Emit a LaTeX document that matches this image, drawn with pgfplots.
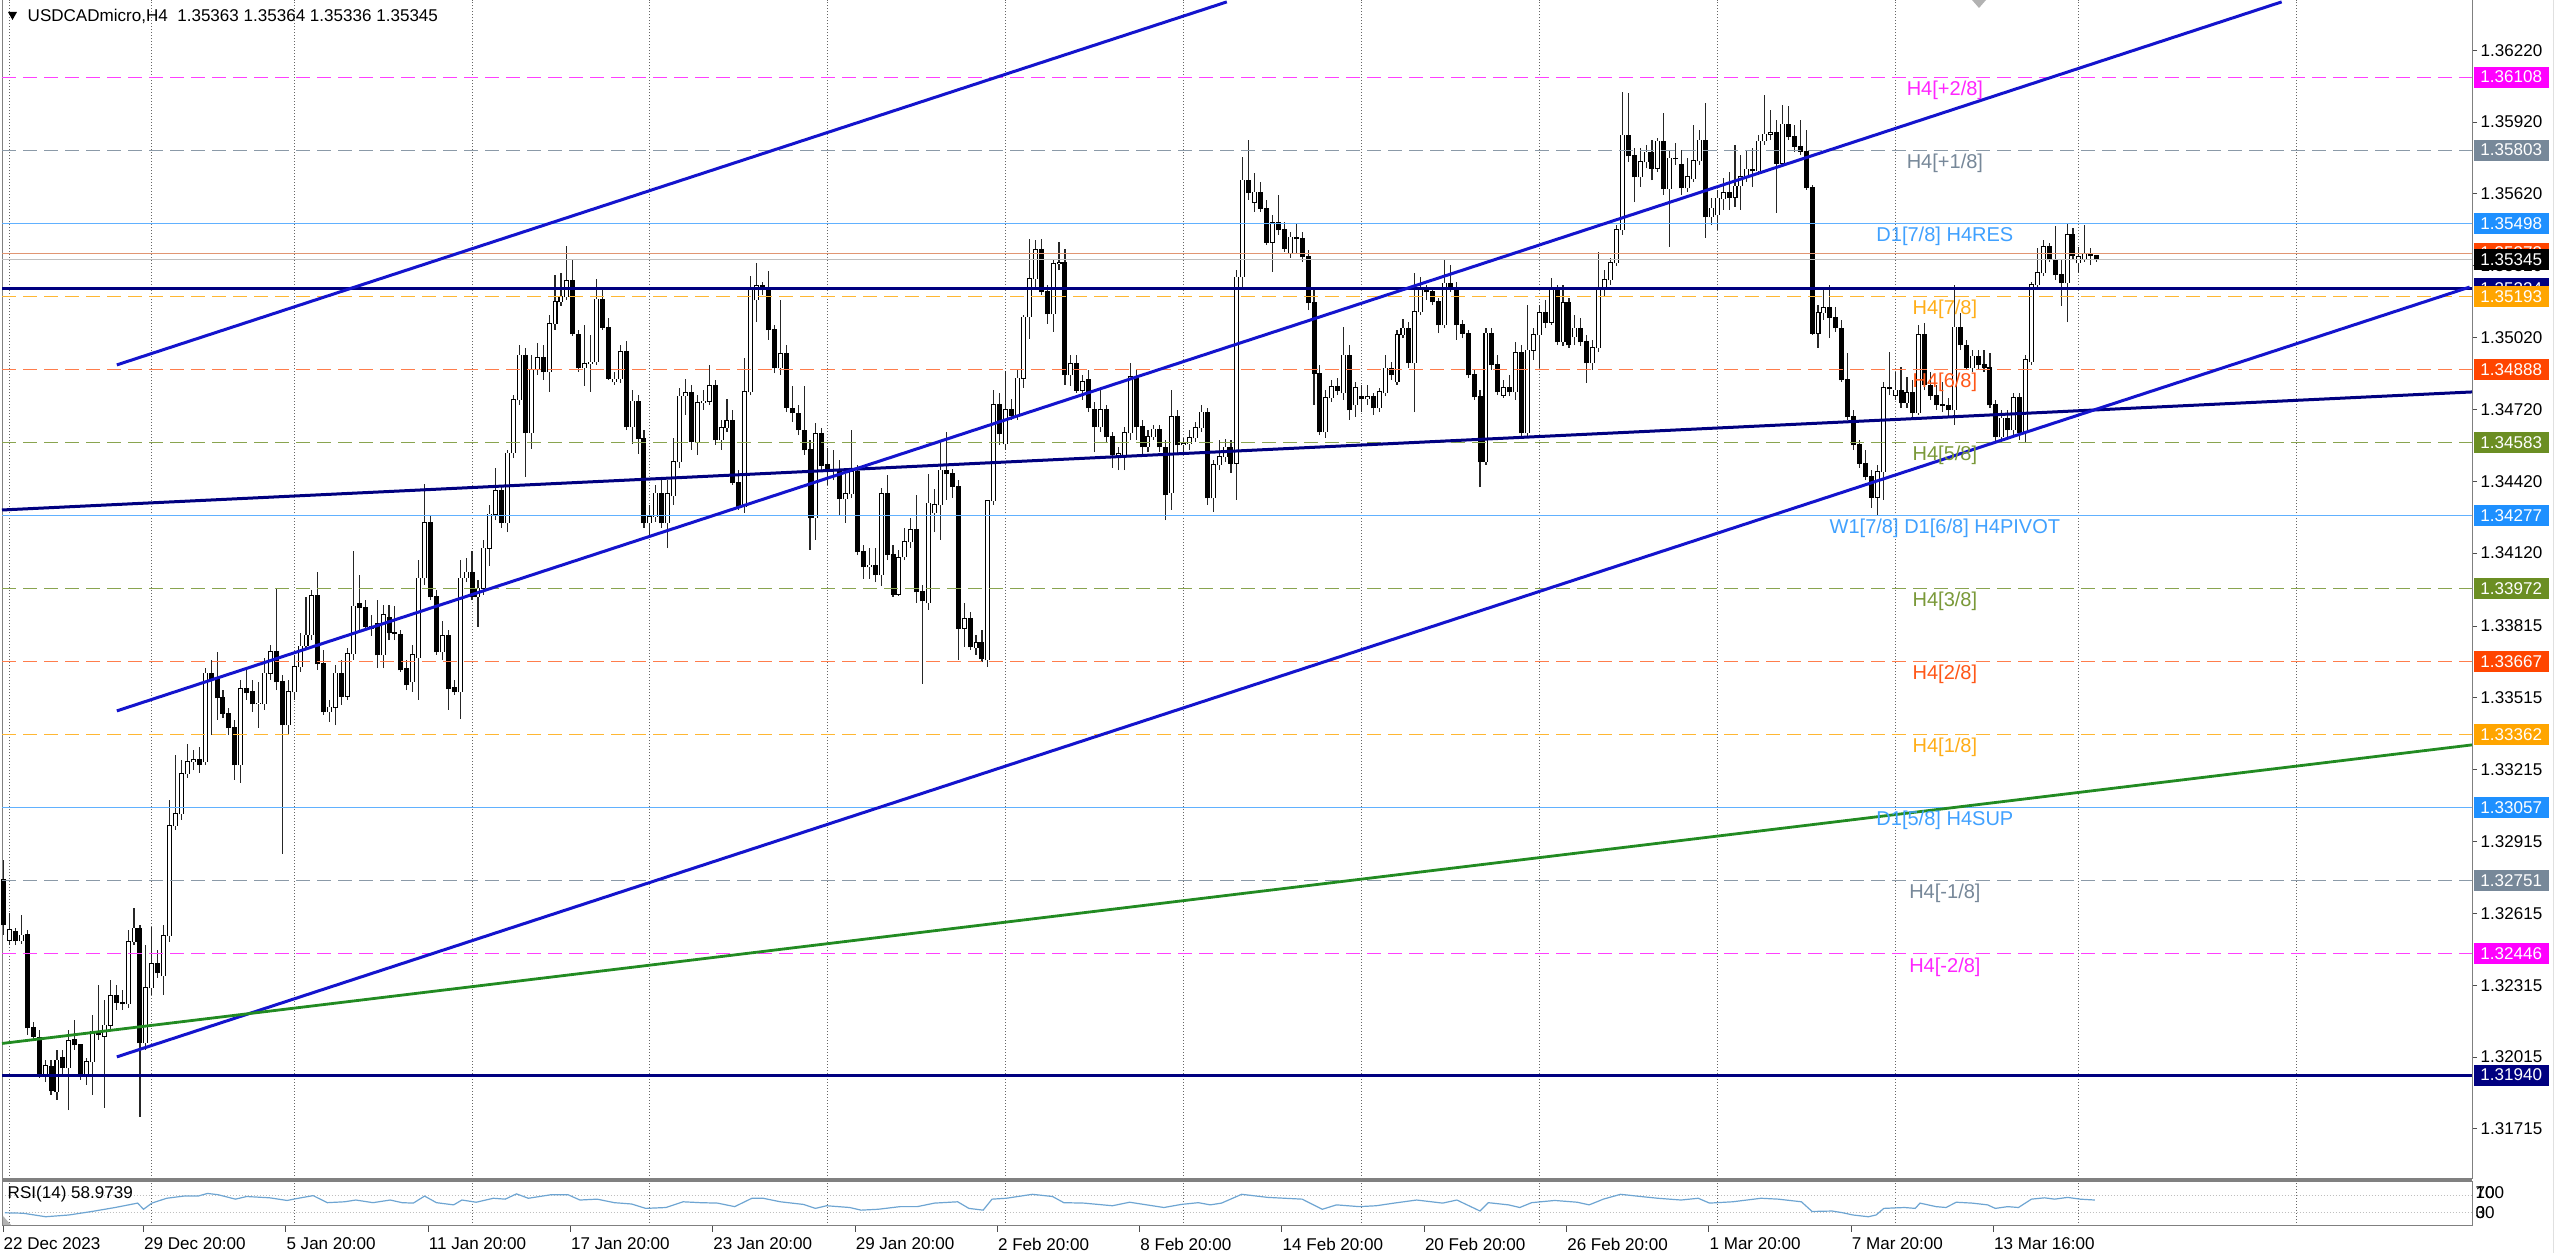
\documentclass[border=0pt]{standalone}
\usepackage{fontspec}
\setmainfont{Liberation Sans}
\usepackage{pgfplots}
\pgfplotsset{compat=1.18}
\usepackage{pgfplotstable}

\definecolor{mtnavy}{RGB}{0,0,128}
\definecolor{mtblue}{RGB}{20,20,205}
\definecolor{mtgreen}{RGB}{34,139,34}
\definecolor{mtmagenta}{RGB}{255,0,255}
\definecolor{mtslate}{RGB}{119,136,153}
\definecolor{mtdodger}{RGB}{30,144,255}
\definecolor{mtorange}{RGB}{255,165,0}
\definecolor{mtored}{RGB}{255,69,0}
\definecolor{mtolive}{RGB}{107,142,35}
\definecolor{mtrsi}{RGB}{110,165,210}
\definecolor{mtframe}{RGB}{128,128,128}
\definecolor{mtprev}{RGB}{225,150,115}

\newcommand\axfont{\fontsize{4.85pt}{5.6pt}\selectfont}
\newcommand\lvfont{\fontsize{5.7pt}{6.6pt}\selectfont}

% USDCADmicro H4 candles, one row per bar (open high low close)
\pgfplotstableread{
o h l c
1.32755 1.32839 1.32525 1.32567
1.32504 1.32617 1.32483 1.32546
1.32538 1.32554 1.32483 1.32500
1.32500 1.32609 1.32488 1.32525
1.32529 1.32546 1.32108 1.32137
1.32137 1.32162 1.32087 1.32103
1.32099 1.32128 1.31928 1.31945
1.31945 1.32003 1.31911 1.31978
1.31978 1.32003 1.31857 1.31874
1.31870 1.32045 1.31836 1.32003
1.32012 1.32045 1.31941 1.31970
1.31970 1.32128 1.31794 1.32083
1.32087 1.32170 1.32045 1.32066
1.32066 1.32070 1.31920 1.31941
1.31945 1.32012 1.31899 1.31995
1.31995 1.32191 1.31857 1.32124
1.32120 1.32316 1.32087 1.32108
1.32103 1.32254 1.31803 1.32149
1.32149 1.32337 1.32128 1.32271
1.32271 1.32316 1.32212 1.32245
1.32245 1.32296 1.32212 1.32237
1.32237 1.32546 1.32220 1.32497
1.32497 1.32638 1.32483 1.32554
1.32554 1.32567 1.31765 1.32074
1.32074 1.32483 1.32045 1.32304
1.32304 1.32559 1.32275 1.32404
1.32404 1.32463 1.32346 1.32367
1.32354 1.32567 1.32275 1.32521
1.32521 1.33089 1.32497 1.32981
1.32981 1.33277 1.32964 1.33031
1.33031 1.33256 1.33006 1.33198
1.33198 1.33323 1.33181 1.33248
1.33248 1.33298 1.33214 1.33256
1.33256 1.33310 1.33202 1.33239
1.33248 1.33640 1.33235 1.33619
1.33619 1.33674 1.33361 1.33590
1.33599 1.33708 1.33423 1.33515
1.33515 1.33548 1.33432 1.33452
1.33452 1.33473 1.33361 1.33390
1.33390 1.33423 1.33173 1.33235
1.33235 1.33590 1.33160 1.33553
1.33553 1.33632 1.33507 1.33536
1.33540 1.33590 1.33457 1.33490
1.33490 1.33582 1.33390 1.33494
1.33490 1.33682 1.33465 1.33619
1.33619 1.33736 1.33590 1.33707
1.33711 1.33974 1.33548 1.33582
1.33582 1.33611 1.32864 1.33402
1.33402 1.33590 1.33361 1.33540
1.33540 1.33695 1.33507 1.33645
1.33645 1.33787 1.33624 1.33732
1.33732 1.33937 1.33716 1.33778
1.33778 1.33966 1.33757 1.33941
1.33941 1.34041 1.33632 1.33657
1.33657 1.33716 1.33444 1.33457
1.33457 1.33507 1.33415 1.33477
1.33477 1.33653 1.33402 1.33619
1.33619 1.33674 1.33486 1.33523
1.33523 1.33724 1.33507 1.33699
1.33699 1.34129 1.33674 1.33899
1.33908 1.34029 1.33799 1.33891
1.33891 1.33924 1.33799 1.33812
1.33812 1.33862 1.33774 1.33807
1.33824 1.33924 1.33640 1.33695
1.33695 1.33903 1.33640 1.33862
1.33853 1.33903 1.33757 1.33787
1.33787 1.33899 1.33757 1.33782
1.33782 1.33799 1.33624 1.33632
1.33640 1.33674 1.33548 1.33569
1.33582 1.33736 1.33540 1.33695
1.33682 1.34091 1.33507 1.34016
1.34016 1.34409 1.33987 1.34246
1.34246 1.34279 1.33924 1.33937
1.33937 1.33966 1.33695 1.33707
1.33707 1.33837 1.33674 1.33774
1.33774 1.33799 1.33465 1.33553
1.33557 1.33590 1.33528 1.33540
1.33540 1.34091 1.33427 1.34016
1.34016 1.34100 1.33999 1.34041
1.34041 1.34129 1.33924 1.33937
1.33937 1.34008 1.33812 1.33974
1.33974 1.34175 1.33945 1.34141
1.34141 1.34321 1.34066 1.34283
1.34283 1.34476 1.34258 1.34380
1.34380 1.34405 1.34225 1.34246
1.34246 1.34551 1.34208 1.34538
1.34538 1.34780 1.34517 1.34760
1.34760 1.34989 1.34739 1.34947
1.34947 1.34977 1.34438 1.34622
1.34622 1.34947 1.34555 1.34885
1.34885 1.34998 1.34864 1.34935
1.34935 1.34989 1.34843 1.34877
1.34877 1.35115 1.34793 1.35077
1.35077 1.35282 1.35052 1.35169
1.35169 1.35290 1.35152 1.35190
1.35190 1.35403 1.35177 1.35257
1.35257 1.35344 1.35027 1.35035
1.35035 1.35052 1.34877 1.34893
1.34893 1.35073 1.34818 1.34910
1.34910 1.35031 1.34793 1.34918
1.34918 1.35265 1.34906 1.35181
1.35181 1.35219 1.35052 1.35064
1.35064 1.35102 1.34843 1.34851
1.34835 1.34877 1.34822 1.34847
1.34847 1.34989 1.34831 1.34960
1.34960 1.35006 1.34634 1.34647
1.34647 1.34801 1.34576 1.34755
1.34755 1.34780 1.34534 1.34597
1.34597 1.34634 1.34225 1.34246
1.34246 1.34321 1.34187 1.34271
1.34271 1.34405 1.34250 1.34371
1.34371 1.34425 1.34225 1.34246
1.34246 1.34425 1.34141 1.34367
1.34359 1.34601 1.34321 1.34501
1.34501 1.34810 1.34476 1.34776
1.34776 1.34847 1.34697 1.34789
1.34789 1.34822 1.34551 1.34584
1.34584 1.34780 1.34530 1.34747
1.34747 1.34801 1.34718 1.34755
1.34755 1.34906 1.34739 1.34818
1.34818 1.34843 1.34572 1.34593
1.34593 1.34676 1.34551 1.34643
1.34643 1.34764 1.34626 1.34672
1.34672 1.34718 1.34405 1.34413
1.34413 1.34467 1.34300 1.34313
1.34313 1.34935 1.34288 1.34793
1.34793 1.35277 1.34780 1.35227
1.35177 1.35332 1.35085 1.35236
1.35236 1.35252 1.35198 1.35219
1.35223 1.35298 1.35010 1.35052
1.35052 1.35073 1.34872 1.34893
1.34893 1.35177 1.34864 1.34952
1.34952 1.34989 1.34709 1.34730
1.34726 1.34818 1.34668 1.34705
1.34705 1.34739 1.34613 1.34634
1.34634 1.34818 1.34530 1.34551
1.34551 1.34593 1.34133 1.34267
1.34267 1.34664 1.34175 1.34618
1.34618 1.34643 1.34467 1.34484
1.34492 1.34559 1.34405 1.34467
1.34467 1.34551 1.34425 1.34471
1.34471 1.34509 1.34279 1.34346
1.34346 1.34451 1.34246 1.34367
1.34367 1.34634 1.34350 1.34459
1.34459 1.34488 1.34112 1.34125
1.34125 1.34154 1.34012 1.34062
1.34062 1.34141 1.34012 1.34070
1.34070 1.34141 1.33999 1.34029
1.34029 1.34392 1.33983 1.34367
1.34367 1.34446 1.34091 1.34116
1.34116 1.34154 1.33937 1.33949
1.33949 1.34133 1.33941 1.34100
1.34104 1.34225 1.34091 1.34167
1.34167 1.34267 1.34141 1.34217
1.34217 1.34363 1.33912 1.33958
1.33958 1.33987 1.33574 1.33920
1.33912 1.34451 1.33883 1.34329
1.34288 1.34388 1.34208 1.34321
1.34321 1.34593 1.34175 1.34467
1.34467 1.34626 1.34342 1.34451
1.34451 1.34471 1.34350 1.34400
1.34400 1.34425 1.33674 1.33807
1.33807 1.33912 1.33728 1.33845
1.33845 1.33874 1.33716 1.33728
1.33724 1.33778 1.33695 1.33745
1.33745 1.33799 1.33665 1.33678
1.33674 1.34342 1.33645 1.34338
1.34338 1.34801 1.34321 1.34739
1.34739 1.34789 1.34572 1.34618
1.34576 1.34881 1.34551 1.34718
1.34718 1.34764 1.34676 1.34693
1.34693 1.34885 1.34676 1.34851
1.34851 1.35115 1.34810 1.35106
1.35106 1.35432 1.35014 1.35265
1.35265 1.35428 1.35219 1.35386
1.35386 1.35432 1.35198 1.35211
1.35211 1.35240 1.35077 1.35119
1.35119 1.35344 1.35044 1.35328
1.35328 1.35419 1.35302 1.35332
1.35332 1.35390 1.34822 1.34864
1.34864 1.34947 1.34818 1.34910
1.34910 1.34947 1.34789 1.34801
1.34801 1.34864 1.34760 1.34835
1.34843 1.34885 1.34709 1.34726
1.34718 1.34751 1.34542 1.34647
1.34647 1.34801 1.34626 1.34718
1.34718 1.34739 1.34584 1.34605
1.34605 1.34626 1.34476 1.34530
1.34530 1.34563 1.34467 1.34534
1.34530 1.34647 1.34467 1.34622
1.34622 1.34914 1.34593 1.34856
1.34856 1.34885 1.34593 1.34647
1.34647 1.34676 1.34530 1.34563
1.34563 1.34634 1.34542 1.34605
1.34605 1.34655 1.34593 1.34638
1.34638 1.34655 1.34542 1.34563
1.34563 1.34593 1.34258 1.34363
1.34371 1.34801 1.34300 1.34689
1.34689 1.34718 1.34530 1.34572
1.34572 1.34601 1.34542 1.34576
1.34576 1.34634 1.34551 1.34601
1.34601 1.34668 1.34584 1.34643
1.34643 1.34739 1.34626 1.34709
1.34709 1.34726 1.34321 1.34350
1.34350 1.34509 1.34292 1.34488
1.34488 1.34593 1.34467 1.34522
1.34522 1.34597 1.34501 1.34563
1.34563 1.34593 1.34455 1.34496
1.34496 1.35302 1.34342 1.35273
1.35273 1.35774 1.35219 1.35678
1.35678 1.35845 1.35595 1.35624
1.35586 1.35708 1.35545 1.35628
1.35628 1.35670 1.35545 1.35561
1.35561 1.35595 1.35407 1.35419
1.35419 1.35532 1.35294 1.35499
1.35499 1.35616 1.35449 1.35470
1.35470 1.35503 1.35378 1.35394
1.35373 1.35461 1.35353 1.35440
1.35440 1.35499 1.35373 1.35432
1.35432 1.35461 1.35336 1.35357
1.35357 1.35386 1.35135 1.35165
1.35165 1.35219 1.34739 1.34872
1.34872 1.34906 1.34613 1.34626
1.34626 1.34801 1.34601 1.34768
1.34768 1.34843 1.34751 1.34814
1.34814 1.34851 1.34780 1.34801
1.34789 1.35064 1.34760 1.34947
1.34947 1.34989 1.34676 1.34718
1.34739 1.34835 1.34689 1.34810
1.34772 1.34822 1.34709 1.34764
1.34764 1.34822 1.34739 1.34772
1.34772 1.34789 1.34697 1.34726
1.34726 1.34810 1.34709 1.34793
1.34789 1.34947 1.34776 1.34893
1.34893 1.34918 1.34843 1.34864
1.34835 1.35052 1.34822 1.35031
1.35031 1.35098 1.35018 1.35060
1.35060 1.35085 1.34893 1.34914
1.34914 1.35290 1.34709 1.35127
1.35127 1.35273 1.35115 1.35227
1.35227 1.35240 1.35177 1.35211
1.35211 1.35227 1.35156 1.35169
1.35169 1.35185 1.35039 1.35073
1.35073 1.35344 1.35060 1.35248
1.35248 1.35323 1.35211 1.35227
1.35227 1.35252 1.35010 1.35073
1.35073 1.35094 1.35018 1.35039
1.35039 1.35052 1.34851 1.34864
1.34864 1.34885 1.34760 1.34772
1.34772 1.34801 1.34396 1.34501
1.34501 1.35060 1.34488 1.35039
1.35039 1.35060 1.34885 1.34906
1.34906 1.34947 1.34780 1.34793
1.34780 1.34843 1.34768 1.34810
1.34810 1.34864 1.34776 1.34793
1.34793 1.35002 1.34760 1.34956
1.34956 1.34989 1.34601 1.34622
1.34622 1.35156 1.34609 1.34968
1.34968 1.35060 1.34927 1.35031
1.35031 1.35156 1.34893 1.35123
1.35123 1.35177 1.35060 1.35085
1.35085 1.35269 1.35073 1.35219
1.35219 1.35240 1.34989 1.35002
1.35002 1.35240 1.34985 1.35165
1.35165 1.35185 1.34977 1.34989
1.35023 1.35115 1.34989 1.35060
1.35060 1.35102 1.34985 1.35002
1.35002 1.35031 1.34831 1.34914
1.34914 1.35010 1.34885 1.34977
1.34977 1.35378 1.34960 1.35219
1.35219 1.35302 1.35190 1.35261
1.35261 1.35353 1.35240 1.35332
1.35332 1.35490 1.35319 1.35470
1.35470 1.36046 1.35449 1.35866
1.35866 1.36042 1.35754 1.35779
1.35779 1.35812 1.35586 1.35691
1.35691 1.35812 1.35649 1.35754
1.35754 1.35825 1.35728 1.35795
1.35795 1.35845 1.35678 1.35728
1.35728 1.35854 1.35712 1.35841
1.35841 1.35958 1.35616 1.35641
1.35641 1.35804 1.35399 1.35770
1.35770 1.35833 1.35741 1.35766
1.35741 1.35804 1.35616 1.35645
1.35645 1.35770 1.35628 1.35691
1.35683 1.35908 1.35670 1.35758
1.35758 1.35887 1.35741 1.35845
1.35845 1.36000 1.35436 1.35524
1.35524 1.35603 1.35490 1.35561
1.35532 1.35637 1.35470 1.35603
1.35599 1.35687 1.35553 1.35624
1.35624 1.35712 1.35553 1.35607
1.35607 1.35825 1.35566 1.35653
1.35653 1.35783 1.35553 1.35691
1.35691 1.35804 1.35670 1.35724
1.35724 1.35812 1.35649 1.35716
1.35716 1.35866 1.35699 1.35841
1.35841 1.36033 1.35825 1.35870
1.35870 1.35971 1.35845 1.35875
1.35875 1.35929 1.35541 1.35749
1.35749 1.35992 1.35737 1.35912
1.35912 1.35987 1.35845 1.35858
1.35858 1.35908 1.35795 1.35820
1.35820 1.35929 1.35783 1.35799
1.35799 1.35887 1.35637 1.35645
1.35645 1.35657 1.35031 1.35039
1.35039 1.35156 1.34977 1.35123
1.35123 1.35227 1.35094 1.35144
1.35144 1.35240 1.35018 1.35102
1.35102 1.35148 1.35044 1.35060
1.35060 1.35094 1.34835 1.34843
1.34843 1.34956 1.34676 1.34689
1.34689 1.34718 1.34551 1.34572
1.34572 1.34593 1.34476 1.34496
1.34496 1.34551 1.34425 1.34438
1.34438 1.34467 1.34309 1.34354
1.34354 1.34488 1.34279 1.34459
1.34459 1.34835 1.34342 1.34810
1.34810 1.34960 1.34780 1.34806
1.34780 1.34877 1.34760 1.34801
1.34801 1.34897 1.34726 1.34747
1.34747 1.34856 1.34726 1.34789
1.34789 1.34843 1.34684 1.34705
1.34705 1.35073 1.34697 1.35031
1.35031 1.35081 1.34801 1.34822
1.34822 1.34877 1.34760 1.34780
1.34780 1.34822 1.34718 1.34739
1.34739 1.34835 1.34709 1.34735
1.34735 1.34768 1.34693 1.34718
1.34718 1.35240 1.34655 1.35064
1.35064 1.35123 1.34968 1.34989
1.34989 1.35010 1.34885 1.34893
1.34893 1.34968 1.34877 1.34943
1.34943 1.34968 1.34885 1.34906
1.34906 1.34968 1.34877 1.34897
1.34897 1.34956 1.34726 1.34739
1.34739 1.34760 1.34584 1.34605
1.34605 1.34718 1.34584 1.34684
1.34684 1.34718 1.34605 1.34634
1.34634 1.34789 1.34613 1.34768
1.34768 1.34789 1.34593 1.34622
1.34622 1.34947 1.34584 1.34927
1.34918 1.35252 1.34906 1.35240
1.35240 1.35394 1.35227 1.35290
1.35290 1.35428 1.35277 1.35399
1.35399 1.35415 1.35336 1.35344
1.35344 1.35486 1.35261 1.35282
1.35282 1.35344 1.35152 1.35248
1.35248 1.35499 1.35085 1.35449
1.35449 1.35478 1.35344 1.35361
1.35332 1.35399 1.35290 1.35357
1.35348 1.35490 1.35336 1.35373
1.35373 1.35394 1.35323 1.35361
1.35363 1.35364 1.35336 1.35345
}\candles

\newcommand\pbox[3]{\node[fill=#2, text=white, anchor=west, font=\axfont,
  minimum width=0.75cm, minimum height=0.21cm, inner sep=0pt, xshift=0.01cm]
  at (axis cs:416.3,#1) {#3};}
\newcommand\plab[1]{\node[anchor=west, font=\axfont, inner sep=0pt, xshift=0.08cm]
  at (axis cs:416.3,#1) {#1};}

% a candle layer is an error-bar plot with no line and no marks
\pgfplotsset{candle/.style={draw=none, mark=none, forget plot,
  error bars/y dir=plus, error bars/y explicit, error bars/error mark=none,
  error bars/error bar style={#1}}}

\begin{document}
\begin{tikzpicture}
\path[use as bounding box, fill=white] (0,0) rectangle (25.6,12.53);

\begin{axis}[
  at={(0.02cm,0.74cm)}, anchor=south west,
  scale only axis, width=24.70cm, height=11.79cm,
  xmin=-0.27, xmax=416.3, ymin=1.31506, ymax=1.36430,
  clip=false,
  axis line style={draw=mtframe, line width=0.01cm},
  xtick={1,25,49,79,109,139,169,199,229,259,289,319,350,386.7},
  xticklabels={}, xtick style={draw=none},
  xmajorgrids,
  major grid style={black!60, line width=0.01cm, dash pattern=on 0.01cm off 0.02cm},
  ytick={1.36220,1.35920,1.35620,1.35320,1.35020,1.34720,1.34420,1.34120,1.33815,1.33515,1.33215,1.32915,1.32615,1.32315,1.32015,1.31715},
  yticklabels={}, ytick pos=right,
  ytick style={draw=black!70, line width=0.01cm},
  tick align=outside, major tick length=0.05cm,
]
% wicks
\addplot[candle={draw=black!85, line width=0.011cm}]
  table[x expr=\coordindex, y=l, y error plus expr=\thisrow{h}-\thisrow{l}] {\candles};
% bearish bodies
\addplot[candle={draw=black, line width=0.05cm},
  restrict expr to domain={\thisrow{o}-\thisrow{c}}{0:1}]
  table[x expr=\coordindex, y expr=\thisrow{c}-0.00002,
        y error plus expr=\thisrow{o}-\thisrow{c}+0.00004] {\candles};
% bullish bodies: outline, then white fill
\addplot[candle={draw=black, line width=0.05cm},
  restrict expr to domain={\thisrow{c}-\thisrow{o}}{0:1}]
  table[x expr=\coordindex, y expr=\thisrow{o}-0.00002,
        y error plus expr=\thisrow{c}-\thisrow{o}+0.00004] {\candles};
\addplot[candle={draw=white, line width=0.029cm},
  restrict expr to domain={\thisrow{c}-\thisrow{o}}{0:1}]
  table[x expr=\coordindex, y=o, y error plus expr=\thisrow{c}-\thisrow{o}] {\candles};

% murrey levels
\addplot[mtmagenta!75, line width=0.01cm, dash pattern=on 0.14cm off 0.07cm] coordinates {(-0.27,1.36108) (416.3,1.36108)};
\addplot[mtslate!85, line width=0.01cm, dash pattern=on 0.14cm off 0.07cm] coordinates {(-0.27,1.35803) (416.3,1.35803)};
\addplot[mtdodger!70, line width=0.01cm] coordinates {(-0.27,1.35498) (416.3,1.35498)};
\addplot[mtprev, line width=0.01cm] coordinates {(-0.27,1.35373) (416.3,1.35373)};
\addplot[black!25, line width=0.01cm] coordinates {(-0.27,1.35345) (416.3,1.35345)};
\addplot[mtorange!80, line width=0.01cm, dash pattern=on 0.14cm off 0.07cm] coordinates {(-0.27,1.35193) (416.3,1.35193)};
\addplot[mtored!70, line width=0.01cm, dash pattern=on 0.14cm off 0.07cm] coordinates {(-0.27,1.34888) (416.3,1.34888)};
\addplot[mtolive!80, line width=0.01cm, dash pattern=on 0.14cm off 0.07cm] coordinates {(-0.27,1.34583) (416.3,1.34583)};
\addplot[mtdodger!70, line width=0.01cm] coordinates {(-0.27,1.34277) (416.3,1.34277)};
\addplot[mtolive!80, line width=0.01cm, dash pattern=on 0.14cm off 0.07cm] coordinates {(-0.27,1.33972) (416.3,1.33972)};
\addplot[mtored!70, line width=0.01cm, dash pattern=on 0.14cm off 0.07cm] coordinates {(-0.27,1.33667) (416.3,1.33667)};
\addplot[mtorange!80, line width=0.01cm, dash pattern=on 0.14cm off 0.07cm] coordinates {(-0.27,1.33362) (416.3,1.33362)};
\addplot[mtdodger!70, line width=0.01cm] coordinates {(-0.27,1.33057) (416.3,1.33057)};
\addplot[mtslate!85, line width=0.01cm, dash pattern=on 0.14cm off 0.07cm] coordinates {(-0.27,1.32751) (416.3,1.32751)};
\addplot[mtmagenta!75, line width=0.01cm, dash pattern=on 0.14cm off 0.07cm] coordinates {(-0.27,1.32446) (416.3,1.32446)};

% trend lines
\addplot[mtnavy, line width=0.03cm] coordinates {(-0.27,1.35224) (416.3,1.35224)};
\addplot[mtnavy, line width=0.03cm] coordinates {(-0.27,1.31940) (416.3,1.31940)};
\addplot[mtnavy, line width=0.03cm] coordinates {(-0.27,1.34300) (416.3,1.34793)};
\addplot[mtblue, line width=0.03cm] coordinates {(19.1,1.34906) (206.3,1.36422)};
\addplot[mtblue, line width=0.03cm] coordinates {(19.1,1.33461) (384.2,1.36422)};
\addplot[mtblue, line width=0.03cm] coordinates {(19.1,1.32016) (415.9,1.35231)};
\addplot[mtgreen, line width=0.028cm] coordinates {(-0.27,1.32072) (416.3,1.33319)};

% level names
\node[text=mtmagenta!85, font=\lvfont] at (axis cs:327.4,1.36054) {H4[+2/8]};
\node[text=mtslate, font=\lvfont] at (axis cs:327.4,1.35749) {H4[+1/8]};
\node[text=mtdodger!85, font=\lvfont] at (axis cs:327.4,1.35444) {D1[7/8] H4RES};
\node[text=mtorange!90, font=\lvfont] at (axis cs:327.4,1.35139) {H4[7/8]};
\node[text=mtored!90, font=\lvfont] at (axis cs:327.4,1.34834) {H4[6/8]};
\node[text=mtolive!90, font=\lvfont] at (axis cs:327.4,1.34529) {H4[5/8]};
\node[text=mtdodger!85, font=\lvfont] at (axis cs:327.4,1.34223) {W1[7/8] D1[6/8] H4PIVOT};
\node[text=mtolive!90, font=\lvfont] at (axis cs:327.4,1.33918) {H4[3/8]};
\node[text=mtored!90, font=\lvfont] at (axis cs:327.4,1.33613) {H4[2/8]};
\node[text=mtorange!90, font=\lvfont] at (axis cs:327.4,1.33308) {H4[1/8]};
\node[text=mtdodger!85, font=\lvfont] at (axis cs:327.4,1.33003) {D1[5/8] H4SUP};
\node[text=mtslate, font=\lvfont] at (axis cs:327.4,1.32697) {H4[-1/8]};
\node[text=mtmagenta!85, font=\lvfont] at (axis cs:327.4,1.32392) {H4[-2/8]};

% price scale
\plab{1.36220}\plab{1.35920}\plab{1.35620}\plab{1.35020}\plab{1.34720}
\plab{1.34420}\plab{1.34120}\plab{1.33815}\plab{1.33515}\plab{1.33215}
\plab{1.32915}\plab{1.32615}\plab{1.32315}\plab{1.32015}\plab{1.31715}
\plab{1.35320}
\pbox{1.36108}{mtmagenta}{1.36108}
\pbox{1.35803}{mtslate}{1.35803}
\pbox{1.35498}{mtdodger}{1.35498}
\pbox{1.35224}{mtnavy}{1.35224}
\pbox{1.35193}{mtorange}{1.35193}
\pbox{1.35373}{mtored}{1.35373}
\pbox{1.35345}{black}{1.35345}
\pbox{1.34888}{mtored}{1.34888}
\pbox{1.34583}{mtolive}{1.34583}
\pbox{1.34277}{mtdodger}{1.34277}
\pbox{1.33972}{mtolive}{1.33972}
\pbox{1.33667}{mtored}{1.33667}
\pbox{1.33362}{mtorange}{1.33362}
\pbox{1.33057}{mtdodger}{1.33057}
\pbox{1.32751}{mtslate}{1.32751}
\pbox{1.32446}{mtmagenta}{1.32446}
\pbox{1.31940}{mtnavy}{1.31940}
\end{axis}

\begin{axis}[
  at={(0.02cm,0.27cm)}, anchor=south west,
  scale only axis, width=24.70cm, height=0.44cm,
  xmin=-0.27, xmax=416.3, ymin=0, ymax=100,
  clip=false,
  axis line style={draw=mtframe, line width=0.01cm},
  xtick={-0.1,23.6,47.6,71.6,95.6,119.6,143.6,167.6,191.6,215.6,239.6,263.6,287.6,311.6,335.6},
  xticklabels={22 Dec 2023,29 Dec 20:00,5 Jan 20:00,11 Jan 20:00,17 Jan 20:00,23 Jan 20:00,29 Jan 20:00,2 Feb 20:00,8 Feb 20:00,14 Feb 20:00,20 Feb 20:00,26 Feb 20:00,1 Mar 20:00,7 Mar 20:00,13 Mar 16:00},
  xtick pos=bottom, tick align=outside, major tick length=0.06cm,
  xtick style={draw=black!70, line width=0.01cm},
  xticklabel style={anchor=north west, inner sep=0pt, font=\axfont, yshift=-0.05cm},
  minor xtick={1,25,49,79,109,139,169,199,229,259,289,319,350,386.7},
  xminorgrids, minor tick length=0pt,
  minor grid style={black!60, line width=0.01cm, dash pattern=on 0.01cm off 0.02cm},
  ytick={30,70}, yticklabels={}, ymajorgrids, ytick style={draw=none},
  major grid style={black!25, line width=0.01cm, dash pattern=on 0.01cm off 0.02cm},
]
\addplot[mtrsi, line width=0.012cm] coordinates {
(0.2,30)(3.3,29)(7.1,21)(11,25)(14.9,33)(18.8,42)(22.6,52)(23.6,38)(25,52)(27.5,63)
(30.4,68)(32.8,68)(34.4,74)(36.2,71)(39.1,61)(41,67)(44.9,64)(47.8,58)(49.7,63)(52.2,69)
(54.6,53)(57.5,55)(59.4,59)(62.3,53)(65.2,59)(67.2,53)(69.1,52)(71,68)(73,53)(75.9,48)
(77.3,59)(79.7,54)(82.6,63)(84.6,61)(86.5,73)(88.5,63)(92.3,71)(95.2,71)(97.2,59)(100.1,61)
(103,53)(105.9,50)(108.3,40)(111.7,42)(114.6,55)(117.5,53)(120.4,52)(123.3,44)(126.2,63)(128.1,63)
(131,55)(134.9,49)(136.9,40)(138.8,46)(142.7,42)(144.6,36)(147.5,38)(151.2,44)(154.1,44)(157,52)
(160.9,55)(162.8,40)(165.2,36)(166.7,61)(169.1,63)(173.5,72)(176.9,67)(178.8,53)(182.2,52)(187,46)
(189.9,54)(192.8,48)(195.7,42)(198.6,49)(201.5,53)(203.5,48)(205.4,52)(208.8,72)(213.2,65)(219,61)
(222.4,38)(224.8,48)(228.6,44)(231.5,46)(234.5,52)(238.3,59)(242.7,52)(245.1,59)(249,34)(250.4,53)
(253.8,48)(255.7,42)(257.7,53)(261.6,58)(265.4,54)(267.4,48)(269.8,61)(272.7,72)(276.1,67)(279,63)
(282.9,59)(285.8,63)(287.7,52)(291.6,55)(296.4,63)(299.3,61)(303.2,55)(305,33)(308.4,34)(310.2,30)
(311.9,25)(314.5,21)(315.8,25)(317.1,40)(320.6,42)(322.4,40)(323.2,52)(325.9,44)(327.6,42)(329.3,54)
(332,52)(334.6,48)(335.9,40)(338,44)(339.8,42)(342,61)(344.2,64)(345.9,61)(348.1,65)(350.2,61)
(352.7,59)};
\end{axis}

% panel separator, captions and markers
\fill[mtframe] (0.02,0.71) rectangle (24.72,0.75);
\fill (0.08,12.41) -- (0.17,12.41) -- (0.125,12.33) -- cycle;
\node[anchor=west, inner sep=0pt, font=\axfont] at (0.27,12.37)
  {USDCADmicro,H4\ \ 1.35363 1.35364 1.35336 1.35345};
\fill[black!30] (19.72,12.53) -- (19.86,12.53) -- (19.79,12.45) -- cycle;
\node[anchor=west, inner sep=0pt, font=\axfont] at (0.07,0.585) {RSI(14) 58.9739};
\fill[black!30] (0.03,0.28) -- (0.11,0.28) -- (0.03,0.37) -- cycle;
\node[anchor=west, inner sep=0pt, font=\axfont] at (24.75,0.60) {100};
\node[anchor=west, inner sep=0pt, font=\axfont] at (24.75,0.60) {70};
\node[anchor=west, inner sep=0pt, font=\axfont] at (24.75,0.40) {30};
\node[anchor=west, inner sep=0pt, font=\axfont] at (24.75,0.40) {0};
\draw[black!12, line width=0.01cm] (25.53,0) -- (25.53,12.53);
\end{tikzpicture}
\end{document}
